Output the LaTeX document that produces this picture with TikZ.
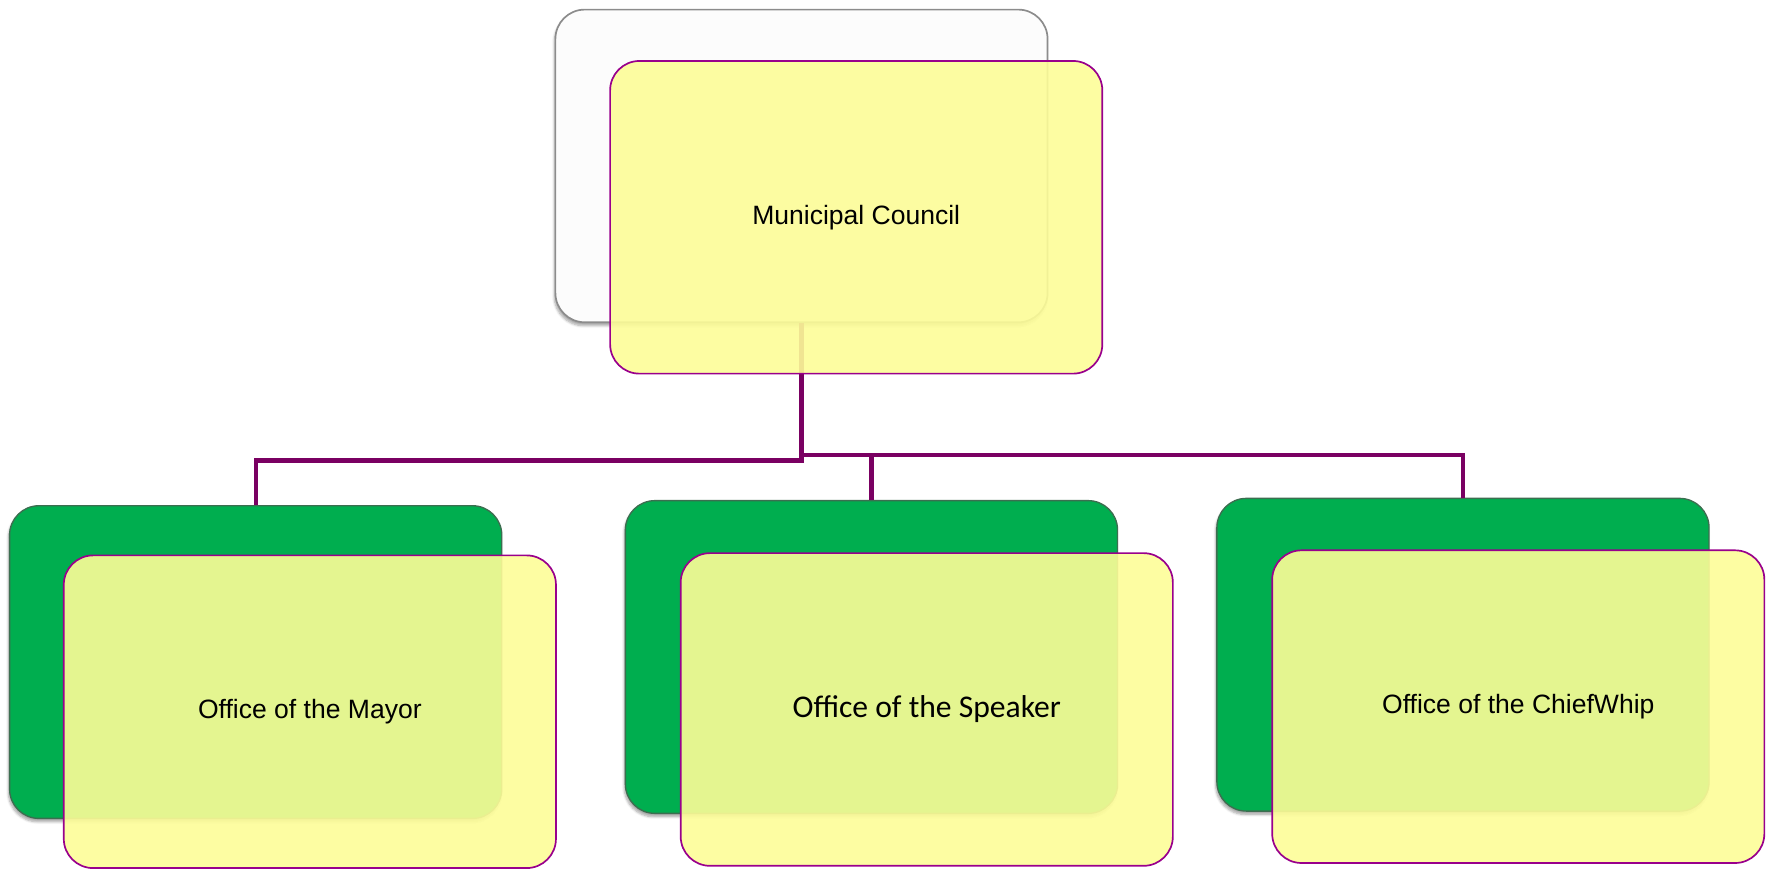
\documentclass[tikz,border=0pt]{standalone}
\usepackage{fontspec}
\setmainfont{Liberation Sans}
\newfontfamily\carlito{Carlito}
\usetikzlibrary{shadows.blur}
\definecolor{panelgreen}{RGB}{0,174,79}
\definecolor{greenedge}{RGB}{60,110,80}
\definecolor{paleyellow}{RGB}{253,253,152}
\definecolor{plumedge}{RGB}{153,0,140}
\definecolor{plumline}{RGB}{122,0,98}
\definecolor{greyedge}{RGB}{140,140,140}
\begin{document}
\begin{tikzpicture}[x=1pt,y=-1pt,
  boxsize/.style={rectangle,rounded corners=26pt,minimum width=436pt,minimum height=277pt,inner sep=0pt},
  backbox/.style={boxsize,fill=white!99!black,draw=greyedge,line width=1.5pt,
    blur shadow={shadow xshift=-1pt,shadow yshift=-3pt,shadow blur steps=6,shadow opacity=35}},
  greenbox/.style={boxsize,fill=panelgreen,draw=greenedge,line width=1.2pt,
    blur shadow={shadow xshift=-1pt,shadow yshift=-3pt,shadow blur steps=6,shadow opacity=35}},
  frontbox/.style={boxsize,fill=paleyellow,fill opacity=0.9,text opacity=1,draw=plumedge,line width=1.5pt,
    font=\fontsize{23.5}{28}\selectfont},
  conn/.style={draw=plumline,line width=3.8pt}]
\useasboundingbox (0,0) rectangle (1568,769);

% back panels
\node[backbox]  (mc)  at (710,147)   {};
\node[greenbox] (may) at (226.5,586.5) {};
\node[greenbox] (spk) at (772,582)   {};
\node[greenbox] (cw)  at (1296,580)  {};

% connectors
\coordinate (busL) at (710,408);
\coordinate (busR) at (710,403);
\draw[conn] (mc.south) -- (busL) -| (may.north);
\draw[conn] (busR) -| (cw.north);
\draw[conn] (spk.north |- busR) -- (spk.north);

% front panels with titles
\node[frontbox] (mcf)  at (758.5,192.5) {Municipal Council};
\node[frontbox] (mayf) at (274.5,630.5) {Office of the Mayor};
\node[frontbox,font=\carlito\fontsize{28}{32}\selectfont] (spkf) at (821,628.5) {Office of the Speaker};
\node[frontbox] (cwf)  at (1345,626)   {Office of the ChiefWhip};
\end{tikzpicture}
\end{document}
